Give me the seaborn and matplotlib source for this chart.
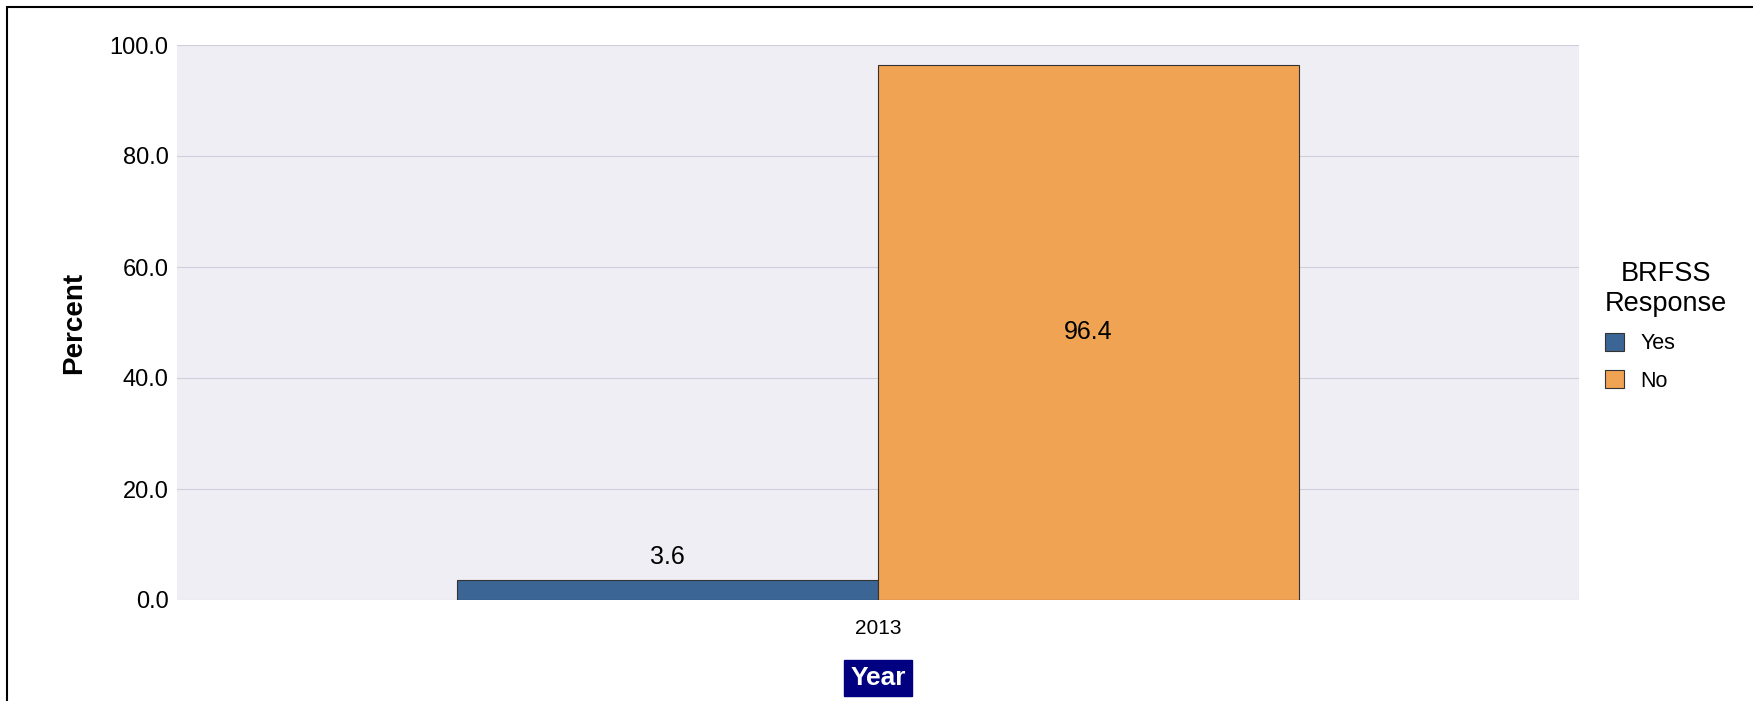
import matplotlib.pyplot as plt
from matplotlib.patches import Rectangle
import seaborn as sns
import pandas as pd

years = ['2013', '2013']
responses = ['Yes', 'No']
percents = [3.6, 96.4]
colors = ['#3A6595', '#F0A352']
y_ticks = [0, 20, 40, 60, 80, 100]

df = pd.DataFrame({'year': years, 'response': responses, 'percent': percents})

sns.set_style('darkgrid', {'axes.facecolor': '#EFEEF4', 'grid.color': '#CFCEDC',
                           'text.color': 'black', 'xtick.color': 'black', 'ytick.color': 'black',
                           'axes.labelcolor': 'black'})
plt.rcParams['font.family'] = ['Liberation Sans', 'DejaVu Sans']

fig = plt.figure(figsize=(17.53, 7.01), dpi=100)
ax = fig.add_axes([177 / 1753, 101 / 701, 1402 / 1753, 555 / 701])

chart = sns.barplot(data=df, x='year', y='percent', hue='response', palette=colors, saturation=1,
                    width=0.6, edgecolor='#333333', linewidth=0.8, ax=ax)

ax.set_xlim(-0.5, 0.5)
ax.set_ylim(0, 100)
ax.set_yticks(y_ticks)
ax.set_yticklabels(['{:.1f}'.format(t) for t in y_ticks], fontsize=17)
ax.tick_params(axis='x', labelsize=15, length=0, pad=14)
ax.tick_params(axis='y', length=0, pad=6)
ax.grid(axis='x', visible=False)
for s in ax.spines.values():
    s.set_visible(False)

# value labels
for bars in ax.containers:
    for b in bars:
        h = b.get_height()
        cx = b.get_x() + b.get_width() / 2
        if h > 20:
            ax.text(cx, h / 2, '{:.1f}'.format(h), ha='center', va='center', fontsize=18)
        else:
            ax.text(cx, h + 2, '{:.1f}'.format(h), ha='center', va='bottom', fontsize=18)

ax.set_ylabel('Percent', fontsize=20, fontweight='bold', labelpad=16)
ax.set_xlabel('Year', fontsize=19, fontweight='bold', color='white', labelpad=20,
              bbox=dict(boxstyle='square,pad=0.22', facecolor='#000080', edgecolor='#000080'))

leg = ax.legend(title='BRFSS\nResponse', loc='upper left', bbox_to_anchor=(1594 / 1753, 1 - 250 / 701),
                bbox_transform=fig.transFigure, frameon=False, fontsize=15.5, title_fontsize=19.5,
                handlelength=0.9, handleheight=0.9, handletextpad=0.75, labelspacing=0.75,
                borderpad=0)
leg.get_title().set_multialignment('center')
leg._legend_box.align = 'left'

fig.add_artist(Rectangle((7 / 1753, -0.1), 2, 1.1 - 7 / 701, transform=fig.transFigure,
                         fill=False, edgecolor='black', linewidth=1.5))

plt.savefig('out.png', dpi=100)
